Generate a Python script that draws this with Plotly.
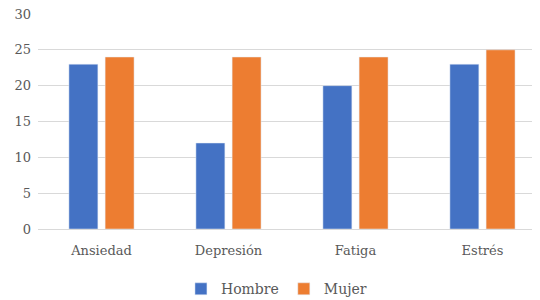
import plotly.graph_objects as go

categories = ["Ansiedad", "Depresión", "Fatiga", "Estrés"]
hombre = [23, 12, 20, 23]
mujer = [24, 24, 24, 25]
y_ticks = [0, 5, 10, 15, 20, 25, 30]

serif = "DejaVu Serif"
font = dict(family=serif, size=13, color="#595959")

fig = go.Figure()
fig.add_trace(go.Bar(name="Hombre", x=categories, y=hombre, marker_color="#4472C4"))
fig.add_trace(go.Bar(name="Mujer", x=categories, y=mujer, marker_color="#ED7D31"))

fig.update_layout(
    width=540, height=300,
    margin=dict(l=30, r=8, t=6, b=79, autoexpand=False),
    barmode="group", bargap=0.43, bargroupgap=0.2,
    plot_bgcolor="white", paper_bgcolor="white",
    font=font,
    legend=dict(orientation="h", x=0.475, xanchor="center", y=-0.28, yanchor="middle",
                font=dict(family=serif, size=14, color="#595959"),
                itemwidth=30, traceorder="normal"),
    xaxis=dict(showgrid=False, showline=True, linecolor="#d9d9d9", linewidth=1,
               ticks="", tickfont=font, range=[-0.5, 3.453], ticklabelstandoff=9),
    yaxis=dict(range=[0, 30], tickvals=y_ticks, showgrid=True, gridcolor="#d9d9d9",
               gridwidth=1, zeroline=False, ticks="", ticklabeloverflow="allow",
               tickfont=font, ticklabelstandoff=6),
)

fig.write_html("out.html")
